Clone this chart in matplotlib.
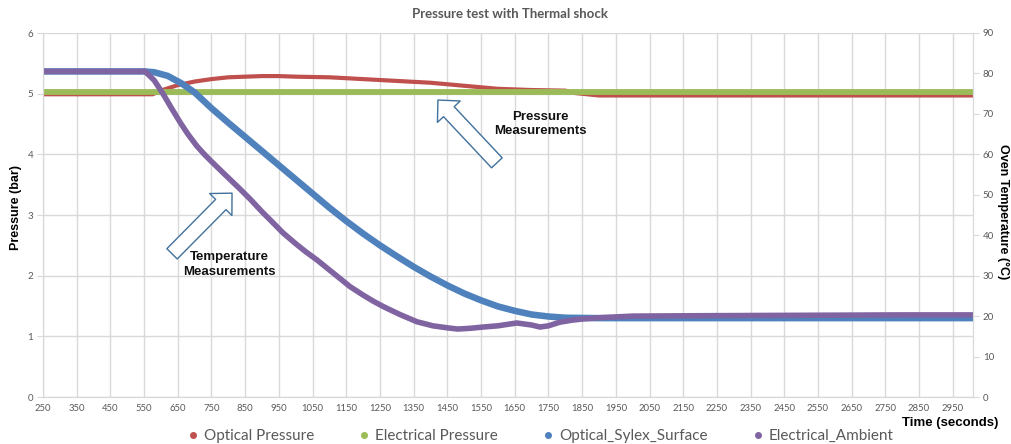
import numpy as np
import matplotlib
matplotlib.use("Agg")
import matplotlib.pyplot as plt
from matplotlib.lines import Line2D

# --- data ---
# pressure series (bar, left axis)
opt_p_t = [250, 575, 610, 650, 700, 750, 800, 850, 900, 950, 1000, 1100, 1200,
           1300, 1400, 1500, 1600, 1700, 1800, 1830, 1900, 2000, 2500, 3010]
opt_p = [4.99, 4.99, 5.07, 5.14, 5.20, 5.24, 5.27, 5.28, 5.29, 5.29, 5.28, 5.27,
         5.24, 5.21, 5.18, 5.13, 5.08, 5.06, 5.05, 5.01, 4.97, 4.97, 4.97, 4.97]

elec_p_t = [250, 1000, 2000, 3010]
elec_p = [5.03, 5.03, 5.03, 5.03]

# temperature series (degC, right axis)
sylex_t = [250, 550, 580, 620, 660, 700, 750, 800, 850, 900, 950, 1000, 1050,
           1100, 1150, 1200, 1250, 1300, 1350, 1400, 1450, 1500, 1550, 1600,
           1650, 1700, 1750, 1800, 1900, 2500, 3010]
sylex = [80.5, 80.5, 80.3, 79.4, 77.6, 75.3, 71.4, 67.8, 64.3, 60.8, 57.3, 53.8,
         50.3, 46.8, 43.5, 40.4, 37.5, 34.8, 32.2, 29.8, 27.6, 25.6, 23.9, 22.4,
         21.3, 20.4, 19.9, 19.6, 19.5, 19.5, 19.5]

amb_t = [250, 553, 580, 606, 630, 657, 680, 707, 730, 754, 780, 805, 835, 864,
         900, 930, 962, 1000, 1030, 1063, 1100, 1130, 1161, 1200, 1230, 1259,
         1309, 1360, 1407, 1450, 1481, 1520, 1556, 1600, 1656, 1700, 1725, 1750,
         1784, 1820, 1853, 1900, 2000, 2200, 2500, 2800, 3010]
amb = [80.5, 80.5, 78.3, 75.0, 71.6, 67.9, 65.0, 62.0, 59.9, 57.9, 55.8, 53.8,
       51.4, 49.0, 45.8, 43.3, 40.6, 37.9, 35.9, 33.9, 31.4, 29.4, 27.3, 25.2,
       23.7, 22.4, 20.4, 18.6, 17.6, 17.1, 16.8, 17.0, 17.3, 17.6, 18.3, 17.8,
       17.3, 17.6, 18.5, 19.0, 19.3, 19.6, 20.0, 20.1, 20.2, 20.3, 20.3]

xtick_vals = list(range(250, 3000, 100))
names = ['Optical Pressure', 'Electrical Pressure', 'Optical_Sylex_Surface', 'Electrical_Ambient']
colors = ['#C0504D', '#9BBB59', '#4F81BD', '#8064A2']

grey = '#595959'
grid_c = '#D9D9D9'
calib = ['Lato', 'DejaVu Sans']
arial = ['Liberation Sans', 'DejaVu Sans']

fig = plt.figure(figsize=(10.12, 4.44), dpi=100)
ax = fig.add_axes([43/1012, 1-397/444, 930/1012, 364/444])
ax2 = ax.twinx()

ax.plot(opt_p_t, opt_p, color=colors[0], lw=3.0, solid_capstyle='round')
ax.plot(elec_p_t, elec_p, color=colors[1], lw=4.2, solid_capstyle='round')
ax2.plot(sylex_t, sylex, color=colors[2], lw=4.7, solid_capstyle='round')
ax2.plot(amb_t, amb, color=colors[3], lw=4.0, solid_capstyle='round')

ax.set_xlim(250, 3010)
ax.set_ylim(0, 6)
ax2.set_ylim(0, 90)
ax.set_yticks(range(0, 7))
ax2.set_yticks(range(0, 91, 10))
ax.set_xticks(xtick_vals)
ax.set_xticklabels([str(v) for v in xtick_vals])

ax.grid(True, color=grid_c, lw=1.0)
ax.set_axisbelow(True)
for a in (ax, ax2):
    for s in a.spines.values():
        s.set_color(grid_c)
    a.spines['top'].set_visible(False)
ax.tick_params(axis='x', length=0, pad=5, labelsize=6.8, labelcolor=grey)
ax.tick_params(axis='y', length=4, color=grid_c, pad=3, labelsize=7, labelcolor=grey)
ax2.tick_params(axis='y', length=4, color=grid_c, pad=3, labelsize=7, labelcolor=grey)
for lab in ax.get_xticklabels() + ax.get_yticklabels() + ax2.get_yticklabels():
    lab.set_family(calib)

fig.text(510/1012, 1-14/444, 'Pressure test with Thermal shock', ha='center', va='center',
         fontsize=9.5, fontweight='bold', color=grey, family=calib)
fig.text(16/1012, 1-207/444, 'Pressure (bar)', rotation=90, ha='center', va='center',
         fontsize=9, fontweight='bold', color='black', family=arial)
fig.text(1003/1012, 1-212/444, 'Oven Temperature (°C)', rotation=270, ha='center', va='center',
         fontsize=9, fontweight='bold', color='black', family=arial)
fig.text(950/1012, 1-423/444, 'Time (seconds)', ha='center', va='center',
         fontsize=9.5, fontweight='bold', color='black', family=arial)

# hollow block arrows with notes
arrow_style = 'simple,head_length=1.15,head_width=2.25,tail_width=1.05'
for tip, tail in [((811, 3.36), (633, 2.36)), ((1422, 4.895), (1597, 3.86))]:
    ax.annotate('', xy=tip, xytext=tail,
                arrowprops=dict(arrowstyle=arrow_style, mutation_scale=10,
                                fc='white', ec='#41719C', lw=1.0,
                                shrinkA=0, shrinkB=0))
ax.text(802, 2.18, 'Temperature\nMeasurements', ha='center', va='center', fontsize=9.5,
        fontweight='bold', color='#111111', family=arial, linespacing=1.3)
ax.text(1725, 4.50, 'Pressure\nMeasurements', ha='center', va='center', fontsize=9.5,
        fontweight='bold', color='#111111', family=arial, linespacing=1.3)

handles = [Line2D([], [], ls='none', marker='o', ms=4, color=c) for c in colors]
leg = fig.legend(handles, names, loc='center', bbox_to_anchor=(541/1012, 8/444),
                 ncol=4, frameon=False, handlelength=0.6, handletextpad=0.4,
                 columnspacing=3.0, prop={'family': calib, 'size': 11})
for t in leg.get_texts():
    t.set_color(grey)

fig.savefig('out.png', dpi=100)
